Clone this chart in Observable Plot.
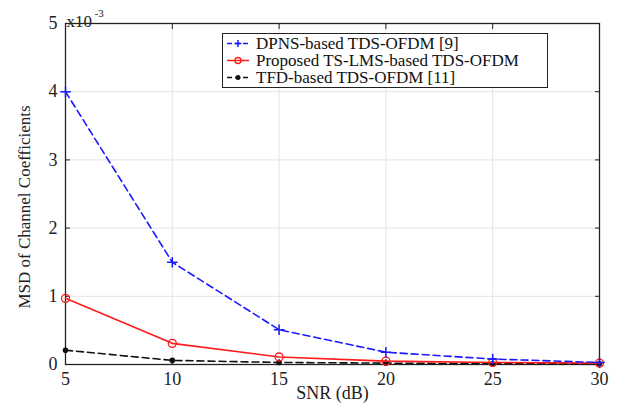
<!DOCTYPE html>
<html>
<head>
<meta charset="utf-8">
<script src="https://cdn.jsdelivr.net/npm/d3@7"></script>
<script src="https://cdn.jsdelivr.net/npm/@observablehq/plot@0.6"></script>
<style>
  html, body { margin: 0; padding: 0; background: #fff; }
  #wrap { position: relative; width: 624px; height: 408px; font-family: "Liberation Serif", "Times New Roman", serif; }
  #wrap svg text { font-family: "Liberation Serif", "Times New Roman", serif; }
  #legend { position: absolute; left: 222px; top: 33px; width: 324px; height: 53px; background: #fff; border: 1px solid #222; font-size: 17px; line-height: 17px; color: #111; font-family: "Liberation Serif", serif; }
  #legend .row { display: flex; align-items: center; height: 17px; margin: 0; white-space: nowrap; line-height: 17px; }
  #legend .row:first-child { margin-top: 1px; }
  #legend svg { margin-left: 3px; margin-right: 6px; flex: none; }
</style>
</head>
<body>
<div id="wrap"></div>
<script>
const snr = [5, 10, 15, 20, 25, 30];
const dpns = [4.0, 1.5, 0.51, 0.18, 0.08, 0.03];
const proposed = [0.97, 0.31, 0.11, 0.05, 0.03, 0.02];
const tfd = [0.21, 0.06, 0.03, 0.02, 0.01, 0.01];
const seriesNames = ["DPNS-based TDS-OFDM [9]", "Proposed TS-LMS-based TDS-OFDM", "TFD-based TDS-OFDM [11]"];
const xTicks = [5, 10, 15, 20, 25, 30];
const yTicks = [0, 1, 2, 3, 4, 5];

const rows = (vals) => snr.map((s, i) => ({snr: s, v: vals[i]}));
const dDpns = rows(dpns), dProp = rows(proposed), dTfd = rows(tfd);
const fmt = d3.format("d");

const chart = Plot.plot({
  width: 624,
  height: 408,
  marginLeft: 65,
  marginRight: 25,
  marginTop: 23,
  marginBottom: 44,
  style: {fontFamily: "Liberation Serif, Times New Roman, serif", fontSize: "17px", color: "#222", background: "#fff"},
  x: {domain: [5, 30], ticks: xTicks},
  y: {domain: [0, 5], ticks: yTicks},
  marks: [
    Plot.gridX(xTicks, {stroke: "#e4e4e4", strokeOpacity: 1}),
    Plot.gridY(yTicks, {stroke: "#e4e4e4", strokeOpacity: 1}),
    Plot.axisX(xTicks, {anchor: "bottom", tickSize: -5, tickPadding: 13, fontSize: 18, tickFormat: fmt, label: null}),
    Plot.axisX(xTicks, {anchor: "top", tickSize: -5, tickFormat: () => "", label: null}),
    Plot.axisY(yTicks, {anchor: "left", tickSize: -5, tickPadding: 13, fontSize: 18, tickFormat: fmt, label: null}),
    Plot.axisY(yTicks, {anchor: "right", tickSize: -5, tickFormat: () => "", label: null}),
    Plot.text(["SNR (dB)"], {frameAnchor: "bottom", dy: 34, text: d => d, fontSize: 18, fill: "#222"}),
    Plot.text(["MSD of Channel Coefficients"], {frameAnchor: "left", dx: -41, dy: 13, rotate: -90, textAnchor: "middle", text: d => d, fontSize: 17, fill: "#222"}),
    Plot.frame({stroke: "#222", strokeWidth: 1.3}),
    Plot.line(dTfd, {x: "snr", y: "v", stroke: "#111", strokeWidth: 1.6, strokeDasharray: "7,4"}),
    Plot.dot(dTfd, {x: "snr", y: "v", r: 2.8, fill: "#111", stroke: "none"}),
    Plot.line(dProp, {x: "snr", y: "v", stroke: "#ff1a1a", strokeWidth: 1.6}),
    Plot.dot(dProp, {x: "snr", y: "v", r: 4, fill: "none", stroke: "#ff1a1a", strokeWidth: 1.3}),
    Plot.line(dDpns, {x: "snr", y: "v", stroke: "#1a1aff", strokeWidth: 1.6, strokeDasharray: "7,4"}),
    Plot.dot(dDpns, {x: "snr", y: "v", r: 3.5, symbol: "plus", stroke: "#1a1aff", strokeWidth: 1.5}),
    Plot.text(["x10"], {frameAnchor: "top-left", dx: 1, dy: -9, text: d => d, textAnchor: "start", fontSize: 17, fill: "#222"}),
    Plot.text(["-3"], {frameAnchor: "top-left", dx: 29, dy: -14, text: d => d, textAnchor: "start", fontSize: 11, fill: "#222"})
  ]
});

const wrap = document.getElementById("wrap");
wrap.appendChild(chart);

const legend = document.createElement("div");
legend.id = "legend";
const styles = [
  {stroke: "#1a1aff", dash: "5,3", marker: "plus"},
  {stroke: "#ff1a1a", dash: null, marker: "circle"},
  {stroke: "#111", dash: "5,3", marker: "dot"}
];
seriesNames.forEach((name, i) => {
  const s = styles[i];
  const row = document.createElement("div");
  row.className = "row";
  let m = "";
  if (s.marker === "plus") m = `<path d="M12,5V12M8.5,8.5H15.5" stroke="${s.stroke}" stroke-width="1.5"/>`;
  else if (s.marker === "circle") m = `<circle cx="12" cy="8.5" r="3" fill="none" stroke="${s.stroke}" stroke-width="1.3"/>`;
  else m = `<circle cx="12" cy="8.5" r="2.5" fill="${s.stroke}"/>`;
  row.innerHTML = `<svg width="24" height="17"><line x1="1" y1="8.5" x2="23" y2="8.5" stroke="${s.stroke}" stroke-width="1.5" ${s.dash ? `stroke-dasharray="${s.dash}"` : ""}/>${m}</svg><span>${name}</span>`;
  legend.appendChild(row);
});
wrap.appendChild(legend);
</script>
</body>
</html>
